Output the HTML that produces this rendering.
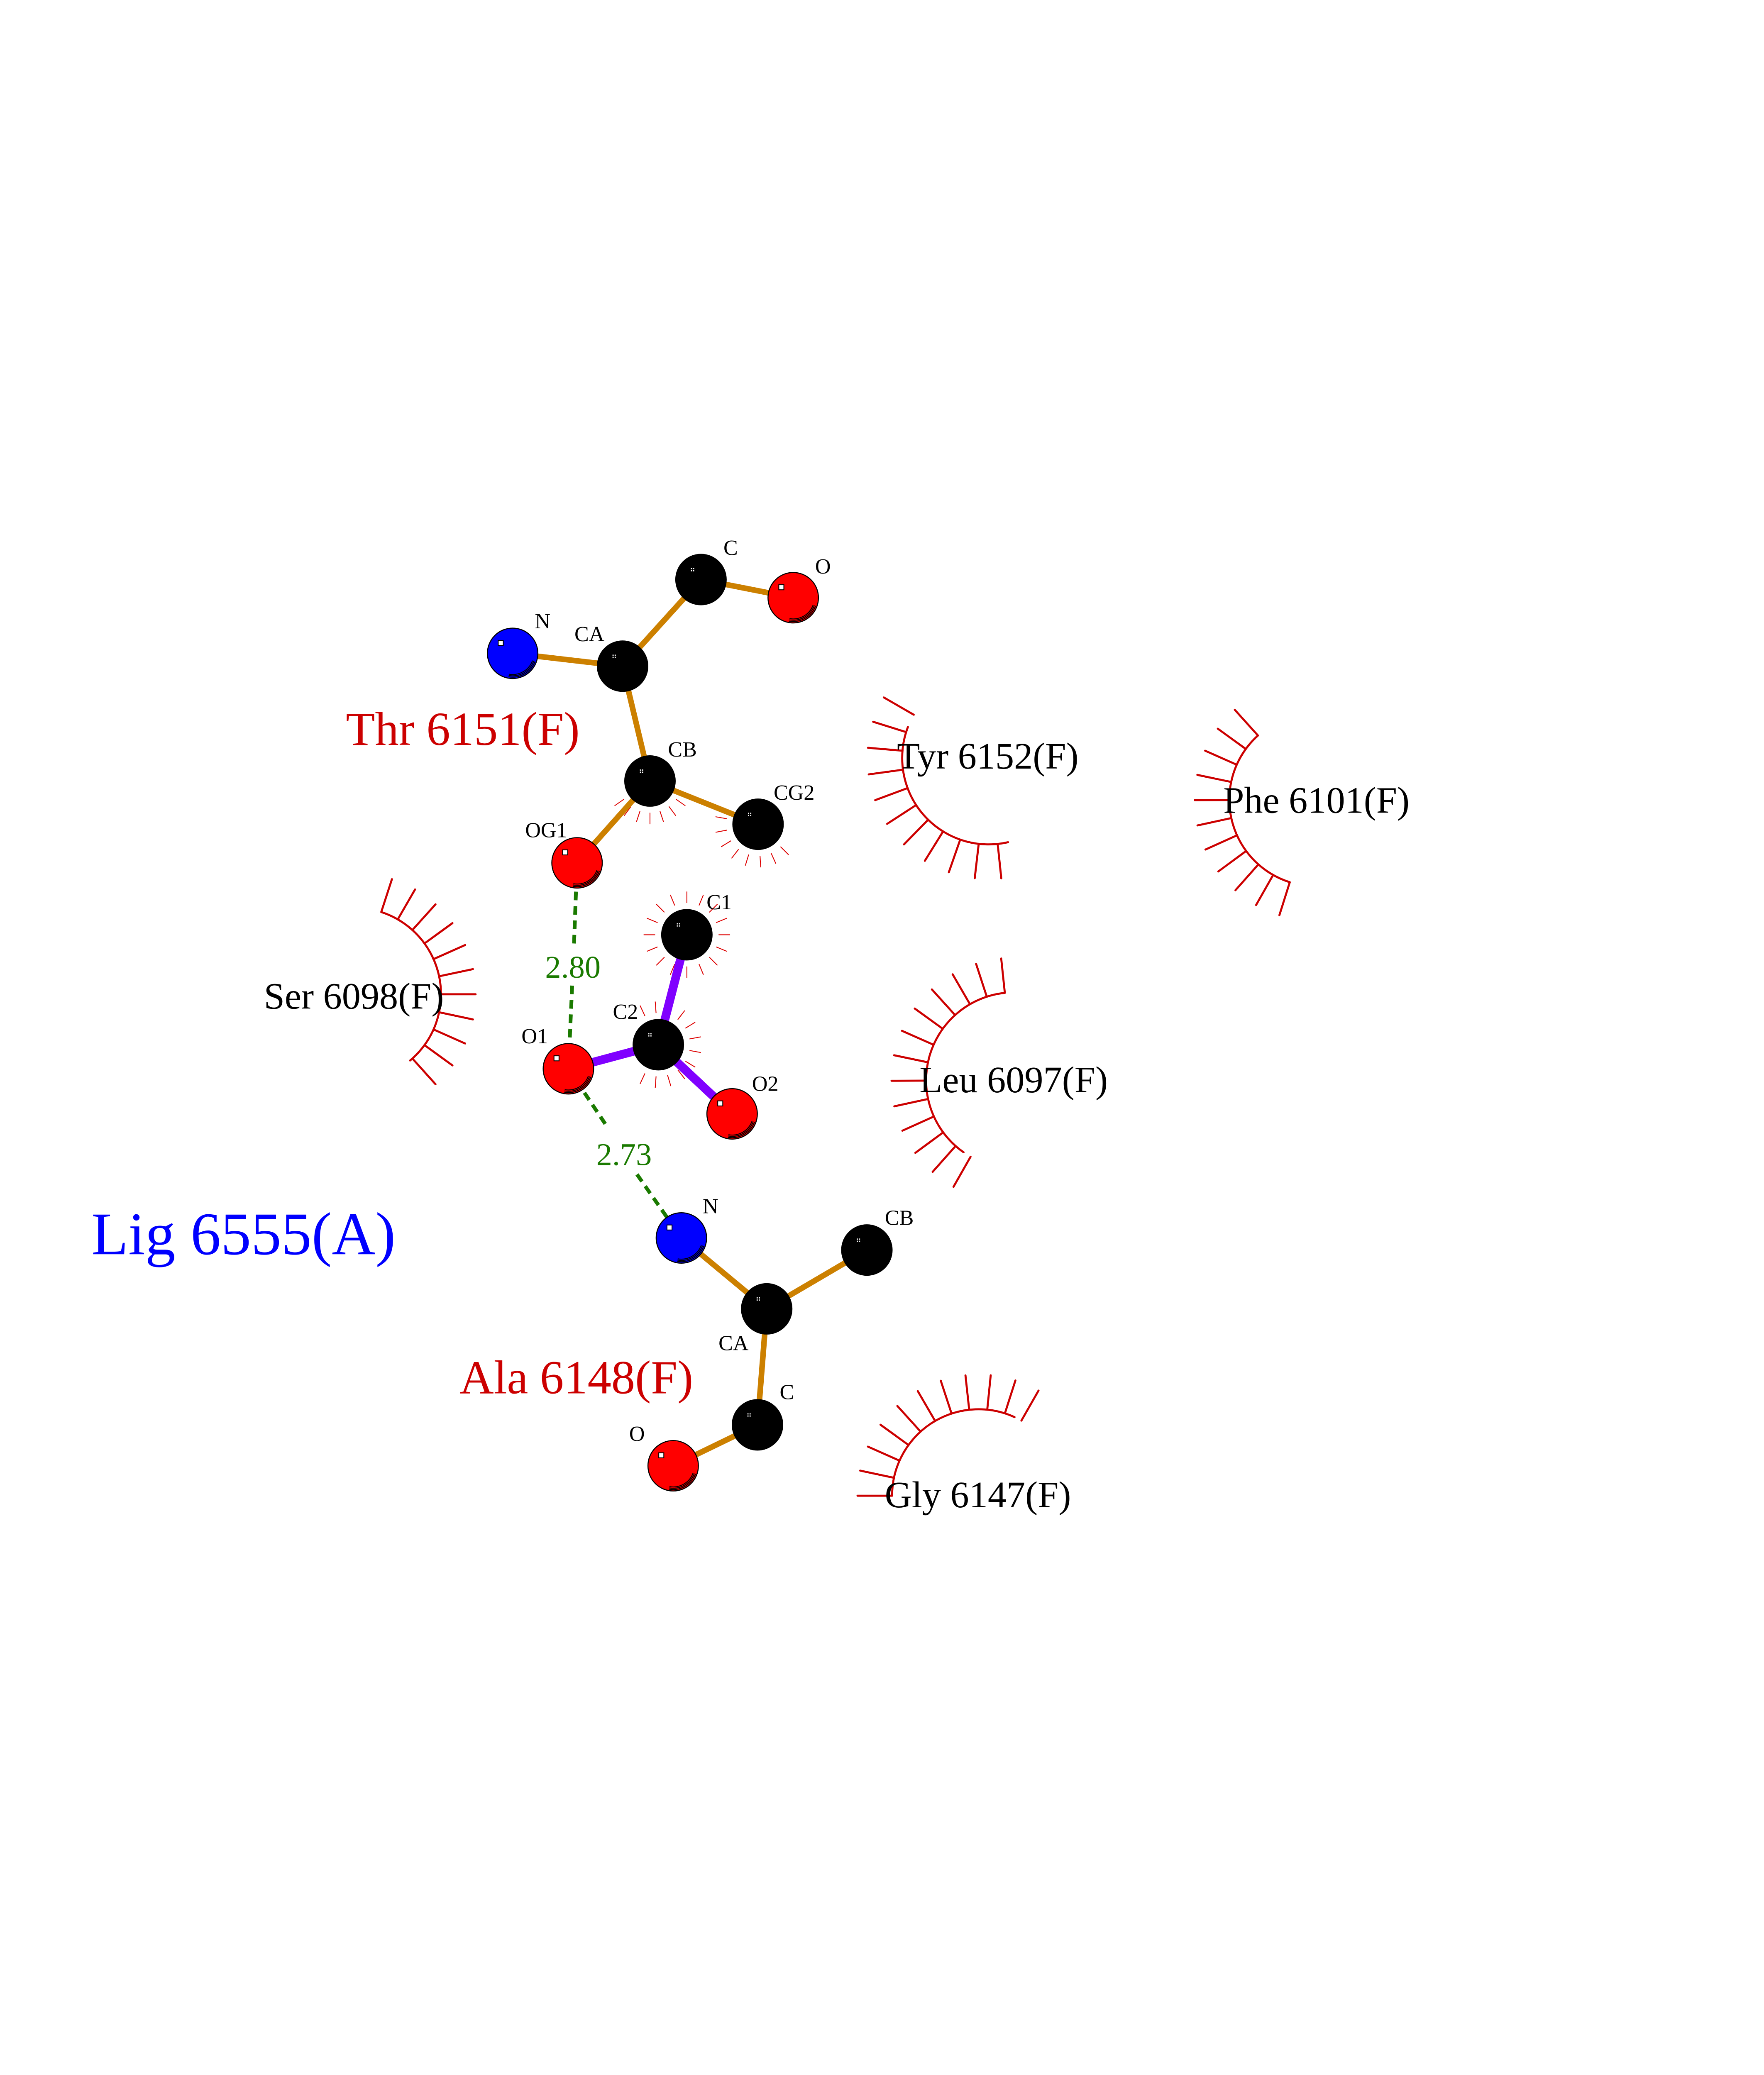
<!DOCTYPE html>
<html><head><meta charset="utf-8">
<style>
html,body{margin:0;padding:0;background:#fff;width:4250px;height:5500px;overflow:hidden;}
svg{display:block;}
text{font-family:"Liberation Serif","DejaVu Serif",serif;}
</style></head>
<body>
<svg id="s" xmlns="http://www.w3.org/2000/svg" width="4250" height="5500" viewBox="0 0 1224 1584" style="overflow:visible">
<rect width="1224" height="1584" fill="#fff"/>
<g id="hyd" stroke="#cc0000" fill="none" stroke-width="1.4" stroke-linecap="round"></g>
<g id="lash" stroke="#dd0000" fill="none" stroke-width="0.6"></g>
<g stroke="#1a7a00" stroke-width="2.6" stroke-dasharray="6,4" fill="none">
<line x1="400.4" y1="598.8" x2="398.3" y2="655"/>
<line x1="397" y1="684" x2="394.4" y2="741.7"/>
<line x1="394.4" y1="741.7" x2="420" y2="780"/>
<line x1="442" y1="815" x2="472.8" y2="859.1"/>
</g>
<g stroke="#cc8000" stroke-width="3.9" stroke-linecap="butt">
<line x1="355.7" y1="453.4" x2="432" y2="462.3"/>
<line x1="432" y1="462.3" x2="486.4" y2="402.2"/>
<line x1="486.4" y1="402.2" x2="550.4" y2="414.8"/>
<line x1="432" y1="462.3" x2="451" y2="542"/>
<line x1="451" y1="542" x2="526" y2="572"/>
<line x1="451" y1="542" x2="400.4" y2="598.8"/>
<line x1="472.8" y1="859.1" x2="532" y2="908.3"/>
<line x1="532" y1="908.3" x2="601.5" y2="867.5"/>
<line x1="532" y1="908.3" x2="525.6" y2="988.8"/>
<line x1="525.6" y1="988.8" x2="467.1" y2="1017.2"/>
</g>
<g stroke="#8000ff" stroke-width="6">
<line x1="476.6" y1="648.7" x2="456.8" y2="725"/>
<line x1="456.8" y1="725" x2="394.4" y2="741.7"/>
<line x1="456.8" y1="725" x2="508" y2="773"/>
</g>
<g id="atoms"></g>
<g font-size="15" fill="#000" text-anchor="middle">
<text x="376.5" y="436">N</text>
<text x="409" y="445">CA</text>
<text x="507" y="385">C</text>
<text x="571" y="398">O</text>
<text x="473.5" y="525">CB</text>
<text x="551" y="555">CG2</text>
<text x="379" y="581">OG1</text>
<text x="499" y="631">C1</text>
<text x="434" y="707">C2</text>
<text x="371" y="724">O1</text>
<text x="531" y="757">O2</text>
<text x="493" y="842">N</text>
<text x="624" y="850">CB</text>
<text x="509" y="937">CA</text>
<text x="546" y="971">C</text>
<text x="442" y="1000">O</text>
</g>
<g font-size="22" fill="#1a7a00" text-anchor="middle">
<text x="397.5" y="678.5">2.80</text>
<text x="433" y="808.5">2.73</text>
</g>
<g font-size="26" fill="#000">
<text x="622.4" y="533.4">Tyr 6152(F)</text>
<text x="848.8" y="564">Phe 6101(F)</text>
<text x="638" y="758">Leu 6097(F)</text>
<text x="308" y="700" text-anchor="end">Ser 6098(F)</text>
<text x="613.9" y="1046">Gly 6147(F)</text>
</g>
<g font-size="33" fill="#cc0000">
<text x="240" y="517">Thr 6151(F)</text>
<text x="481" y="967" text-anchor="end">Ala 6148(F)</text>
</g>
<text x="63.4" y="870.4" font-size="42" fill="#0000ff">Lig 6555(A)</text>
<text x="58" y="1470" font-size="12" fill="#000">.</text>
</svg>
<script>
(function(){
var NS="http://www.w3.org/2000/svg";
function el(p,n,a){var e=document.createElementNS(NS,n);for(var k in a)e.setAttribute(k,a[k]);p.appendChild(e);return e;}
var hyd=document.getElementById('hyd'),lash=document.getElementById('lash'),atoms=document.getElementById('atoms');
var R=Math.PI/180;
function hydro(cx,cy,r,a1,a2,s1,s2,n,len){
 var x1=cx+r*Math.cos(a1*R),y1=cy+r*Math.sin(a1*R),x2=cx+r*Math.cos(a2*R),y2=cy+r*Math.sin(a2*R);
 el(hyd,'path',{d:'M'+x1+' '+y1+' A'+r+' '+r+' 0 0 1 '+x2+' '+y2});
 for(var i=0;i<n;i++){var a=(s1+(s2-s1)*i/(n-1))*R;
  el(hyd,'line',{x1:cx+r*Math.cos(a),y1:cy+r*Math.sin(a),x2:cx+(r+len)*Math.cos(a),y2:cy+(r+len)*Math.sin(a)});}
}
hydro(686,526,60,77,201,84,210,11,24);
hydro(913,555,60,107.5,228,107.5,228,11,24);
hydro(703.6,749.7,61,125,264,119.6,264,13,24);
hydro(246,690,60,-72,50,-72,48,11,24);
hydro(679,1038,60,180,294.6,180,299.7,11,24);
function lashes(cx,cy,a1,a2,n,full){
 for(var i=0;i<n;i++){var a=(a1+(a2-a1)*i/(full?n:(n-1)))*R;
  el(lash,'line',{x1:cx+22*Math.cos(a),y1:cy+22*Math.sin(a),x2:cx+30*Math.cos(a),y2:cy+30*Math.sin(a)});}
}
lashes(451,542,35,145,7);
lashes(526,572,45,190,8);
lashes(476.6,648.7,0,360,16,true);
lashes(456.8,725,-115,115,12);
function atom(cx,cy,col){
 var r=17.5;
 el(atoms,'circle',{cx:cx,cy:cy,r:r,fill:col,stroke:'#000','stroke-width':0.7});
 if(col!='#000'){
  for(var k=0;k<3;k++){var rr=r-1-k*0.9;
   var a1=20*R,a2=100*R;
   el(atoms,'path',{d:'M'+(cx+rr*Math.cos(a1))+' '+(cy+rr*Math.sin(a1))+' A'+rr+' '+rr+' 0 0 1 '+(cx+rr*Math.cos(a2))+' '+(cy+rr*Math.sin(a2)),fill:'none',stroke:'#000','stroke-width':0.6});}
  el(atoms,'rect',{x:cx-10,y:cy-9,width:3.5,height:3.5,fill:'#fff',stroke:'#000','stroke-width':0.6});
 } else {
  el(atoms,'rect',{x:cx-7,y:cy-8,width:0.8,height:0.8,fill:'#fff'});
  el(atoms,'rect',{x:cx-5.5,y:cy-8,width:0.8,height:0.8,fill:'#fff'});
  el(atoms,'rect',{x:cx-7,y:cy-6.5,width:0.8,height:0.8,fill:'#fff'});
  el(atoms,'rect',{x:cx-5.5,y:cy-6.5,width:0.8,height:0.8,fill:'#fff'});
 }
}
atom(355.7,453.4,'#0000ff');
atom(432,462.3,'#000');
atom(486.4,402.2,'#000');
atom(550.4,414.8,'#ff0000');
atom(451,542,'#000');
atom(526,572,'#000');
atom(400.4,598.8,'#ff0000');
atom(476.6,648.7,'#000');
atom(456.8,725,'#000');
atom(394.4,741.7,'#ff0000');
atom(508,773,'#ff0000');
atom(472.8,859.1,'#0000ff');
atom(532,908.3,'#000');
atom(601.5,867.5,'#000');
atom(525.6,988.8,'#000');
atom(467.1,1017.2,'#ff0000');
})();
</script>
</body></html>
